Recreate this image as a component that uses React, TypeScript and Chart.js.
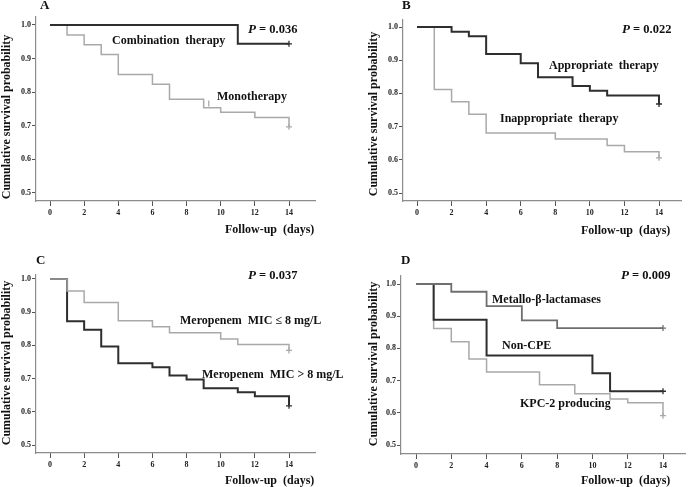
import React, { useEffect, useRef } from "react";
import { Chart, registerables } from "chart.js";
Chart.register(...registerables);

const dayTicks = [0, 2, 4, 6, 8, 10, 12, 14];
const survTicks = [0.5, 0.6, 0.7, 0.8, 0.9, 1.0];

// Panel A
const aComboDays = [0, 11, 14];
const aComboSurv = [1.0, 0.944, 0.944];
const aComboCensorDays = [14];
const aComboCensorSurv = [0.944];
const aMonoDays = [0, 1, 2, 3, 4, 6, 7, 9, 10, 12, 14];
const aMonoSurv = [1.0, 0.97, 0.941, 0.912, 0.853, 0.824, 0.779, 0.754, 0.74, 0.725, 0.697];
const aMonoCensorDays = [9.3, 14];
const aMonoCensorSurv = [0.766, 0.697];

// Panel B
const bApprDays = [0, 2, 3, 4, 6, 7, 9, 10, 11, 14];
const bApprSurv = [1.0, 0.986, 0.972, 0.919, 0.891, 0.849, 0.822, 0.808, 0.794, 0.768];
const bApprCensorDays = [14];
const bApprCensorSurv = [0.768];
const bInapDays = [0, 1, 2, 3, 4, 8, 11, 12, 14];
const bInapSurv = [1.0, 0.812, 0.775, 0.737, 0.681, 0.663, 0.643, 0.624, 0.606];
const bInapCensorDays = [14];
const bInapCensorSurv = [0.606];

// Panel C
const cLowDays = [0, 1, 2, 4, 6, 7, 10, 11, 14];
const cLowSurv = [1.0, 0.964, 0.929, 0.874, 0.856, 0.838, 0.819, 0.803, 0.785];
const cLowCensorDays = [14];
const cLowCensorSurv = [0.785];
const cHighDays = [0, 1, 2, 3, 4, 6, 7, 8, 9, 11, 12, 14];
const cHighSurv = [1.0, 0.873, 0.847, 0.797, 0.746, 0.734, 0.709, 0.697, 0.671, 0.659, 0.647, 0.618];
const cHighCensorDays = [14];
const cHighCensorSurv = [0.618];

// Panel D
const dMblDays = [0, 2, 4, 6, 8, 14];
const dMblSurv = [1.0, 0.976, 0.931, 0.887, 0.863, 0.863];
const dMblCensorDays = [14];
const dMblCensorSurv = [0.863];
const dNonDays = [0, 1, 4, 10, 11, 14];
const dNonSurv = [1.0, 0.889, 0.778, 0.723, 0.667, 0.667];
const dNonCensorDays = [14];
const dNonCensorSurv = [0.667];
const dKpcDays = [0, 1, 2, 3, 4, 7, 9, 11, 12, 14];
const dKpcSurv = [1.0, 0.862, 0.821, 0.767, 0.727, 0.687, 0.659, 0.643, 0.631, 0.591];
const dKpcCensorDays = [14];
const dKpcCensorSurv = [0.591];

const DARK = "#2e2e2e";
const LIGHT = "#a9a9a9";
const MID = "#6f6f6f";
const SERIF = '"Liberation Serif", "Times New Roman", serif';

const pts = (xs: number[], ys: number[]) => xs.map((x, i) => ({ x, y: ys[i] }));

type Curve = {
  days: number[];
  surv: number[];
  cDays: number[];
  cSurv: number[];
  color: string;
  width: number;
  censorStyles?: string[];
  censorRot?: number[];
};

type Txt = { t: string; x: number; y: number; p?: boolean };

type Panel = {
  left: number;
  top: number;
  w: number;
  h: number;
  area: { l: number; r: number; t: number; b: number };
  x0: number;
  x14: number;
  y1: number;
  y05: number;
  curves: Curve[];
  letter: Txt;
  pval: Txt;
  labels: Txt[];
  yTitle: { x: number; y: number };
  xTitle: { x: number; y: number };
};

const panels: Panel[] = [
  {
    left: 0, top: 0, w: 348, h: 243,
    area: { l: 36, r: 315, t: 17, b: 201 },
    x0: 50, x14: 289, y1: 25, y05: 193,
    curves: [
      { days: aComboDays, surv: aComboSurv, cDays: aComboCensorDays, cSurv: aComboCensorSurv, color: DARK, width: 2 },
      { days: aMonoDays, surv: aMonoSurv, cDays: aMonoCensorDays, cSurv: aMonoCensorSurv, color: LIGHT, width: 1.5, censorStyles: ["line", "cross"], censorRot: [90, 0] },
    ],
    letter: { t: "A", x: 40, y: 6 },
    pval: { t: "0.036", x: 248, y: 30, p: true },
    labels: [
      { t: "Combination  therapy", x: 112, y: 41 },
      { t: "Monotherapy", x: 217, y: 97 },
    ],
    yTitle: { x: 7, y: 117 },
    xTitle: { x: 225, y: 230 },
  },
  {
    left: 348, top: 0, w: 348, h: 243,
    area: { l: 55, r: 333, t: 20, b: 201 },
    x0: 69, x14: 311, y1: 27, y05: 193,
    curves: [
      { days: bApprDays, surv: bApprSurv, cDays: bApprCensorDays, cSurv: bApprCensorSurv, color: DARK, width: 2 },
      { days: bInapDays, surv: bInapSurv, cDays: bInapCensorDays, cSurv: bInapCensorSurv, color: LIGHT, width: 1.5 },
    ],
    letter: { t: "B", x: 54, y: 6 },
    pval: { t: "0.022", x: 274, y: 30, p: true },
    labels: [
      { t: "Appropriate  therapy", x: 201, y: 66 },
      { t: "Inappropriate  therapy", x: 152, y: 119 },
    ],
    yTitle: { x: 26, y: 114 },
    xTitle: { x: 233, y: 231 },
  },
  {
    left: 0, top: 243, w: 348, h: 244,
    area: { l: 36, r: 315, t: 32, b: 210 },
    x0: 50, x14: 289, y1: 36, y05: 202,
    curves: [
      { days: cLowDays, surv: cLowSurv, cDays: cLowCensorDays, cSurv: cLowCensorSurv, color: LIGHT, width: 1.5 },
      { days: cHighDays, surv: cHighSurv, cDays: cHighCensorDays, cSurv: cHighCensorSurv, color: DARK, width: 2 },
    ],
    letter: { t: "C", x: 36, y: 18 },
    pval: { t: "0.037", x: 248, y: 33, p: true },
    labels: [
      { t: "Meropenem  MIC \u2264 8 mg/L", x: 180, y: 78 },
      { t: "Meropenem  MIC > 8 mg/L", x: 202, y: 132 },
    ],
    yTitle: { x: 7, y: 120 },
    xTitle: { x: 225, y: 238 },
  },
  {
    left: 348, top: 243, w: 348, h: 244,
    area: { l: 53, r: 337, t: 33, b: 211 },
    x0: 68, x14: 315, y1: 41, y05: 202,
    curves: [
      { days: dMblDays, surv: dMblSurv, cDays: dMblCensorDays, cSurv: dMblCensorSurv, color: MID, width: 1.8 },
      { days: dNonDays, surv: dNonSurv, cDays: dNonCensorDays, cSurv: dNonCensorSurv, color: DARK, width: 2 },
      { days: dKpcDays, surv: dKpcSurv, cDays: dKpcCensorDays, cSurv: dKpcCensorSurv, color: LIGHT, width: 1.5 },
    ],
    letter: { t: "D", x: 53, y: 18 },
    pval: { t: "0.009", x: 273, y: 33, p: true },
    labels: [
      { t: "Metallo-\u03b2-lactamases", x: 144, y: 57 },
      { t: "Non-CPE", x: 154, y: 103 },
      { t: "KPC-2 producing", x: 172, y: 161 },
    ],
    yTitle: { x: 26, y: 121 },
    xTitle: { x: 233, y: 238 },
  },
];

function PanelChart({ p }: { p: Panel }) {
  const ref = useRef<HTMLCanvasElement>(null);
  useEffect(() => {
    const canvas = ref.current!;
    const pxPerDay = (p.x14 - p.x0) / 14;
    const xmin = (p.area.l - p.x0) / pxPerDay;
    const xmax = (p.area.r - p.x0) / pxPerDay;
    const pxPerUnit = (p.y05 - p.y1) / 0.5;
    const ymax = 1 + (p.y1 - p.area.t) / pxPerUnit;
    const ymin = 0.5 - (p.area.b - p.y05) / pxPerUnit;

    const datasets: any[] = [];
    p.curves.forEach((c) => {
      datasets.push({
        type: "line",
        data: pts(c.days, c.surv),
        borderColor: c.color,
        borderWidth: c.width,
        stepped: true,
        pointRadius: 0,
        fill: false,
      });
      datasets.push({
        type: "scatter",
        data: pts(c.cDays, c.cSurv),
        borderColor: c.color,
        backgroundColor: c.color,
        borderWidth: 1.3,
        pointStyle: c.censorStyles || "cross",
        rotation: c.censorRot || 0,
        pointRadius: 3,
        showLine: false,
      });
    });

    const textPlugin = {
      id: "texts",
      afterDraw(chart: any) {
        const ctx = chart.ctx as CanvasRenderingContext2D;
        ctx.save();
        ctx.fillStyle = "#111";
        ctx.textBaseline = "middle";
        ctx.textAlign = "left";
        ctx.font = `bold 13px ${SERIF}`;
        ctx.fillText(p.letter.t, p.letter.x, p.letter.y);
        // P value
        ctx.font = `italic bold 13px ${SERIF}`;
        ctx.fillText("P", p.pval.x, p.pval.y);
        const pw = ctx.measureText("P").width;
        ctx.font = `bold 12.5px ${SERIF}`;
        ctx.fillText(" = " + p.pval.t, p.pval.x + pw, p.pval.y);
        ctx.font = `bold 12px ${SERIF}`;
        p.labels.forEach((l) => ctx.fillText(l.t, l.x, l.y));
        ctx.font = `bold 12px ${SERIF}`;
        ctx.fillText("Follow-up  (days)", p.xTitle.x, p.xTitle.y);
        ctx.translate(p.yTitle.x, p.yTitle.y);
        ctx.rotate(-Math.PI / 2);
        ctx.textAlign = "center";
        ctx.font = `bold 12px ${SERIF}`;
        ctx.fillText("Cumulative survival probability", 0, 0);
        ctx.restore();
      },
    };

    const tickFont = { family: SERIF, size: 8, weight: "bold" as const };
    const chart = new Chart(canvas, {
      type: "line",
      data: { datasets },
      options: {
        responsive: false,
        animation: false,
        events: [],
        layout: { padding: { left: 0, top: p.area.t, right: p.w - p.area.r, bottom: 0 } },
        plugins: { legend: { display: false }, tooltip: { enabled: false } },
        scales: {
          x: {
            type: "linear",
            min: xmin,
            max: xmax,
            afterBuildTicks: (s: any) => {
              s.ticks = dayTicks.map((v) => ({ value: v }));
            },
            afterFit: (s: any) => {
              s.height = p.h - p.area.b;
            },
            ticks: { font: tickFont, color: "#222", padding: 2, maxRotation: 0, autoSkip: false, callback: (v: any) => String(v) },
            grid: { drawOnChartArea: false, drawTicks: true, tickLength: 5, color: "#555", tickWidth: 1 },
            border: { display: true, color: "#8c8c8c", width: 1.2 },
          },
          y: {
            type: "linear",
            min: ymin,
            max: ymax,
            afterBuildTicks: (s: any) => {
              s.ticks = survTicks.map((v) => ({ value: v }));
            },
            afterFit: (s: any) => {
              s.width = p.area.l;
            },
            ticks: { font: tickFont, color: "#222", padding: 1, autoSkip: false, callback: (v: any) => Number(v).toFixed(1) },
            grid: { drawOnChartArea: false, drawTicks: true, tickLength: 4, color: "#555", tickWidth: 1 },
            border: { display: true, color: "#8c8c8c", width: 1.2 },
          },
        },
      },
      plugins: [textPlugin],
    });
    return () => chart.destroy();
  }, [p]);
  return (
    <canvas
      ref={ref}
      width={p.w}
      height={p.h}
      style={{ position: "absolute", left: p.left, top: p.top, width: p.w, height: p.h }}
    />
  );
}

export default function App() {
  return (
    <div style={{ position: "absolute", left: 0, top: 0, width: 696, height: 487, background: "#fff" }}>
      {panels.map((p, i) => (
        <PanelChart key={i} p={p} />
      ))}
    </div>
  );
}
